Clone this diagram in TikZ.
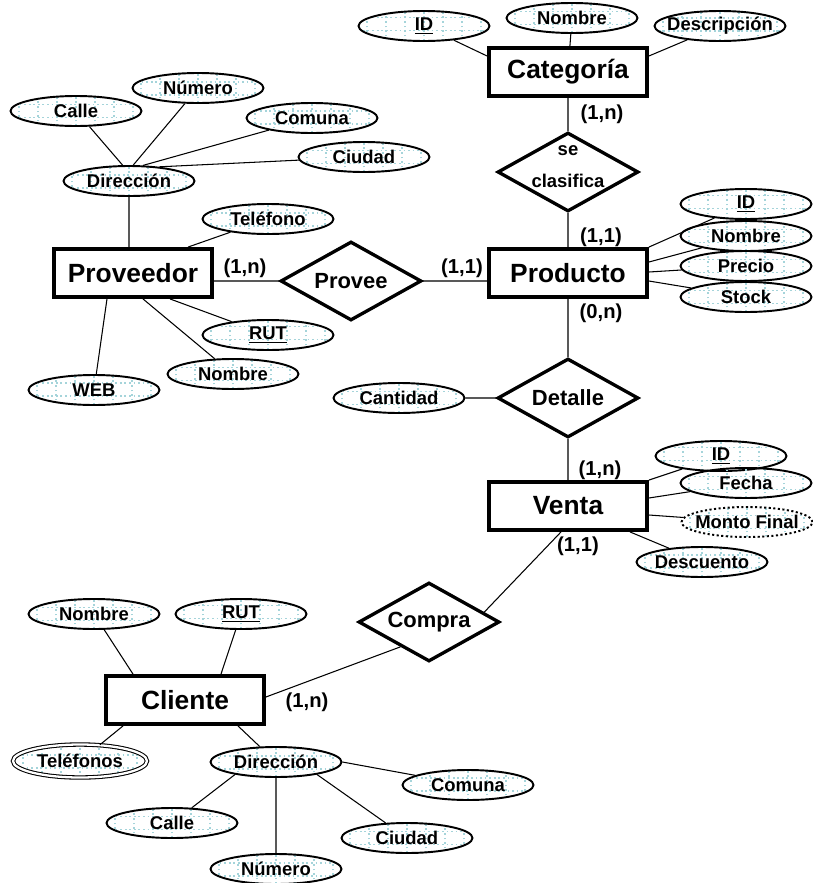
\documentclass[tikz,border=0pt]{standalone}
\usepackage{fontspec}
\setmainfont{Liberation Sans}
\usetikzlibrary{shapes.geometric}
\definecolor{gridcol}{RGB}{165,212,218}

\begin{document}
\begin{tikzpicture}[x=0.02cm,y=-0.02cm,
	entity/.style={draw, line width=2.2pt, minimum width=3.16cm, minimum height=0.96cm, inner sep=0pt, font=\fontsize{15}{18}\selectfont\bfseries},
	relation/.style={draw, diamond, line width=1.9pt, minimum width=2.82cm, minimum height=1.58cm, inner sep=0pt, font=\fontsize{12.5}{15}\selectfont\bfseries, execute at begin node={\hbox to 0pt\bgroup\hss}, execute at end node={\hss\egroup}},
	attrib/.style={draw, ellipse, line width=1.1pt, minimum width=2.62cm, minimum height=0.6cm, inner sep=0pt, font=\fontsize{10.5}{12}\selectfont\bfseries, execute at begin node={\hbox to 0pt\bgroup\hss}, execute at end node={\hss\egroup}, path picture={\draw[gridcol, line width=1pt, dash pattern=on 1pt off 1.6pt, xstep=0.38cm, ystep=0.26cm] (path picture bounding box.south west) grid (path picture bounding box.north east);}},
	multi/.style={double, double distance=1.3pt, line width=0.6pt, minimum width=2.68cm, minimum height=0.66cm},
	derived/.style={dash pattern=on 1.2pt off 1.4pt},
	card/.style={font=\fontsize{11.5}{13}\selectfont\bfseries, inner sep=0pt},
	link/.style={line width=0.6pt}]
	\useasboundingbox (0,0) rectangle (813,883);

	% entidades y relaciones
	\node[entity] (cat) at (568,72) {Categoría};
	\node[entity] (prod) at (568,273) {Producto};
	\node[entity] (prov) at (133,273) {Proveedor};
	\node[entity] (venta) at (568,506) {Venta};
	\node[entity] (cli) at (185,700) {Cliente};
	\node[relation] (clasif) at (568,172) {\smash{\fontsize{10.5}{12}\selectfont\begin{tabular}[c]{@{}c@{}}se\\[6pt]clasifica\end{tabular}}};
	\node[relation] (provee) at (351,281) {Provee};
	\node[relation] (detalle) at (568,398) {Detalle};
	\node[relation] (compra) at (429,622) {Compra};

	% atributos
	\node[attrib] (catid) at (424,26) {\underline{ID}};
	\node[attrib] (catnom) at (572,18) {Nombre};
	\node[attrib] (catdesc) at (720,26) {Descripción};
	\node[attrib] (prodid) at (746,204) {\underline{ID}};
	\node[attrib] (prodnom) at (746,236) {Nombre};
	\node[attrib] (prodprec) at (746,266) {Precio};
	\node[attrib] (prodstock) at (746,297) {Stock};
	\node[attrib] (pdir) at (129,181) {Dirección};
	\node[attrib] (pcalle) at (76,111) {Calle};
	\node[attrib] (pnum) at (198,88) {Número};
	\node[attrib] (pcomuna) at (312,118) {Comuna};
	\node[attrib] (pciudad) at (364,157) {Ciudad};
	\node[attrib] (ptel) at (268,219) {Teléfono};
	\node[attrib] (prut) at (268,335) {\underline{RUT}};
	\node[attrib] (pnom) at (233,374) {Nombre};
	\node[attrib] (pweb) at (94,390) {WEB};
	\node[attrib] (cant) at (399,398) {Cantidad};
	\node[attrib] (vid) at (721,456) {\underline{ID}};
	\node[attrib] (vfecha) at (746,483) {Fecha};
	\node[attrib,derived] (vmonto) at (747,522) {Monto Final};
	\node[attrib] (vdesc) at (702,562) {Descuento};
	\node[attrib] (cnom) at (94,614) {Nombre};
	\node[attrib] (crut) at (241,614) {\underline{RUT}};
	\node[attrib,multi] (ctel) at (80,761) {Teléfonos};
	\node[attrib] (cdir) at (276,762) {Dirección};
	\node[attrib] (ccomuna) at (468,785) {Comuna};
	\node[attrib] (ccalle) at (172,823) {Calle};
	\node[attrib] (cciudad) at (407,838) {Ciudad};
	\node[attrib] (cnum) at (276,869) {Número};

	% cardinalidades
	\node[card] (c1) at (602,114) {(1,n)};
	\node[card] (c2) at (601,237) {(1,1)};
	\node[card] (c3) at (601,313) {(0,n)};
	\node[card] (c4) at (245,268) {(1,n)};
	\node[card] (c5) at (462,268) {(1,1)};
	\node[card] (c6) at (600,470) {(1,n)};
	\node[card] (c7) at (578,546) {(1,1)};
	\node[card] (c8) at (307,702) {(1,n)};

	\draw[link] (catid) -- (cat.west |- 0,56) (catnom) -- (cat) (catdesc) -- (cat.east |- 0,56)
	(cat) -- (clasif) (clasif) -- (prod)
	(prodid) -- (prod.north east) (prodnom) -- (prod.east |- 0,262) (prodprec) -- (prod.east |- 0,272) (prodstock) -- (prod.east |- 0,281)
	(prod) -- (detalle) (cant) -- (detalle) (detalle) -- (venta)
	(vid) -- (venta.north east) (vfecha) -- (venta.east |- 0,498) (vmonto) -- (venta.east |- 0,515) (vdesc) -- (venta.south -| 630,0);
	\draw[link] (pcalle) -- (pdir.112) (pnum) -- (pdir.75) (pcomuna) -- (pdir.48) (pciudad) -- (pdir.25)
	(pdir) -- (pdir |- prov.north)
	(ptel) -- (prov.north -| 188,0) (prut) -- (prov.south -| 170,0) (pnom) -- (prov.south -| 143,0) (pweb) -- (prov.south -| 107,0)
	(prov.east |- provee.west) -- (provee.west) (provee.east) -- (prod.west |- provee.east);
	\draw[link] (venta.south -| 561,0) -- (compra.10) (compra.221) -- (cli.east |- 0,697)
	(cnom) -- (cli.north -| 133,0) (crut) -- (cli.north -| 221,0) (ctel) -- (cli.south -| 123,0) (cdir) -- (cli.south -| 238,0)
	(ccalle) -- (cdir.197) (cdir.south) -- (cnum.north) (cciudad) -- (cdir.343) (ccomuna) -- (cdir.east);
\end{tikzpicture}
\end{document}
